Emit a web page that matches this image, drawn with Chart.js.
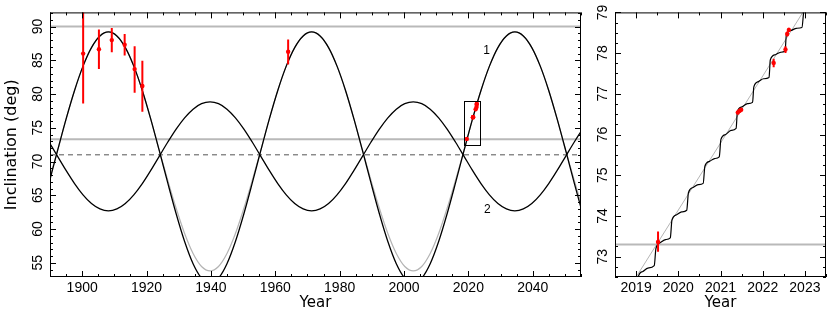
<!DOCTYPE html>
<html>
<head>
<meta charset="utf-8">
<script src="https://cdn.jsdelivr.net/npm/chart.js@4.4.1/dist/chart.umd.min.js"></script>
<style>
  html, body { margin: 0; padding: 0; background: #fff; }
  #wrap { position: relative; width: 830px; height: 316px; }
  canvas { position: absolute; top: 0; }
  #left  { left: 0; }
  #right { left: 590px; }
</style>
</head>
<body>
<div id="wrap">
  <canvas id="left" width="590" height="316"></canvas>
  <canvas id="right" width="240" height="316"></canvas>
</div>
<script>
// ── Model curves, tabulated 1/24 of the ~63 yr cycle apart ──────────────
const modelYears = [
  1889.73, 1892.36, 1894.99, 1897.63, 1900.26, 1902.89, 1905.52,
  1908.15, 1910.78, 1913.41, 1916.04, 1918.68, 1921.31, 1923.94, 1926.57,
  1929.20, 1931.83, 1934.46, 1937.09, 1939.73, 1942.36, 1944.99, 1947.62,
  1950.25, 1952.88, 1955.51, 1958.14, 1960.78, 1963.41, 1966.04, 1968.67,
  1971.30, 1973.93, 1976.56, 1979.19, 1981.83, 1984.46, 1987.09, 1989.72,
  1992.35, 1994.98, 1997.61, 2000.24, 2002.88, 2005.51, 2008.14, 2010.77,
  2013.40, 2016.03, 2018.66, 2021.28, 2023.92, 2026.55, 2029.18, 2031.82,
  2034.45, 2037.08, 2039.71, 2042.34, 2044.97, 2047.60, 2050.24, 2052.87,
  2055.50
];

// solution 1, full model (black)
const curve1 = [
  66.88, 71.65, 76.29, 80.54, 84.14, 86.89, 88.61,
  89.20, 88.61, 86.89, 84.14, 80.54, 76.29, 71.65, 66.88,
  62.27, 58.16, 54.87, 52.74, 52.00, 52.74, 54.87, 58.16,
  62.27, 66.88, 71.65, 76.29, 80.54, 84.14, 86.89, 88.61,
  89.20, 88.61, 86.89, 84.14, 80.54, 76.29, 71.65, 66.88,
  62.27, 58.16, 54.87, 52.74, 52.00, 52.74, 54.87, 58.16,
  62.27, 66.88, 71.65, 76.29, 80.54, 84.14, 86.89, 88.61,
  89.20, 88.61, 86.89, 84.14, 80.54, 76.29, 71.65, 66.88,
  62.27
];

// solution 1, secular only (grey)
const curve1Secular = [
  67.27, 71.65, 76.29, 80.54, 84.14, 86.89, 88.61,
  89.20, 88.61, 86.89, 84.14, 80.54, 76.29, 71.65, 67.27,
  63.08, 59.34, 56.38, 54.46, 53.80, 54.46, 56.38, 59.34,
  63.08, 67.27, 71.65, 76.29, 80.54, 84.14, 86.89, 88.61,
  89.20, 88.61, 86.89, 84.14, 80.54, 76.29, 71.65, 67.27,
  63.08, 59.34, 56.38, 54.46, 53.80, 54.46, 56.38, 59.34,
  63.08, 67.27, 71.65, 76.29, 80.54, 84.14, 86.89, 88.61,
  89.20, 88.61, 86.89, 84.14, 80.54, 76.29, 71.65, 67.27,
  63.08
];

// solution 2 (black)
const curve2 = [
  72.86, 70.78, 68.69, 66.74, 65.07, 63.78, 62.98,
  62.70, 62.98, 63.78, 65.07, 66.74, 68.69, 70.78, 72.86,
  74.81, 76.48, 77.77, 78.58, 78.85, 78.58, 77.77, 76.48,
  74.81, 72.86, 70.78, 68.69, 66.74, 65.07, 63.78, 62.98,
  62.70, 62.98, 63.78, 65.07, 66.74, 68.69, 70.78, 72.86,
  74.81, 76.48, 77.77, 78.58, 78.85, 78.58, 77.77, 76.48,
  74.81, 72.86, 70.78, 68.69, 66.74, 65.07, 63.78, 62.98,
  62.70, 62.98, 63.78, 65.07, 66.74, 68.69, 70.78, 72.86,
  74.81
];

// ── Zoomed panel: short-period model (black) and secular trend (grey) ───
const stepYears = [
  2019.03, 2019.05, 2019.15, 2019.28, 2019.43,
  2019.47, 2019.58, 2019.70, 2019.81,
  2019.85, 2019.96, 2020.08, 2020.20,
  2020.24, 2020.35, 2020.47, 2020.59,
  2020.63, 2020.74, 2020.86, 2020.97,
  2021.01, 2021.12, 2021.25, 2021.37,
  2021.40, 2021.51, 2021.64, 2021.76,
  2021.79, 2021.90, 2022.02, 2022.15,
  2022.18, 2022.30, 2022.42, 2022.53,
  2022.56, 2022.68, 2022.80, 2022.93,
  2022.97, 2023.00
];
const stepInc = [
  72.15, 72.50, 72.63, 72.72, 72.78,
  73.20, 73.35, 73.42, 73.46,
  73.90, 74.03, 74.10, 74.14,
  74.57, 74.70, 74.77, 74.80,
  75.22, 75.34, 75.41, 75.45,
  75.88, 76.00, 76.10, 76.15,
  76.56, 76.68, 76.76, 76.79,
  77.17, 77.30, 77.37, 77.40,
  77.83, 77.96, 78.02, 78.05,
  78.44, 78.56, 78.61, 78.63,
  79.00, 79.20
];
const trendYears = [2018.80, 2023.20];
const trendInc   = [72.17, 79.41];

// ── Measured inclinations with error bars ──────────────────────────────
const obsYear = [1900.3, 1905.2, 1909.2, 1913.2, 1916.3, 1918.7, 1964.0,
                 2019.52, 2021.41, 2021.45, 2021.49, 2022.26, 2022.54, 2022.58, 2022.62];
const obsInc  = [86.00, 86.65, 88.00, 87.30, 83.70, 81.20, 86.26,
                 73.36, 76.54, 76.58, 76.61, 77.76, 78.09, 78.47, 78.57];
const obsLo   = [78.60, 83.70, 86.20, 85.70, 80.20, 77.40, 84.40,
                 73.12, 76.50, 76.54, 76.57, 77.65, 78.00, 78.41, 78.52];
const obsHi   = [93.50, 89.55, 89.80, 88.90, 87.10, 84.95, 88.10,
                 73.62, 76.58, 76.62, 76.65, 77.86, 78.17, 78.53, 78.62];

// reference levels
const greyLevels = [90.0, 73.3];
const dashLevel  = 71.0;

// tick labels
const xTicksLeft  = [1900, 1920, 1940, 1960, 1980, 2000, 2020, 2040];
const yTicksLeft  = [55, 60, 65, 70, 75, 80, 85, 90];
const xTicksRight = [2019, 2020, 2021, 2022, 2023];
const yTicksRight = [73, 74, 75, 76, 77, 78, 79];

const RED = '#ff0000';
const TICK_FONT  = { family: 'Liberation Sans', size: 14 };
const TITLE_FONT = { family: 'DejaVu Sans', size: 15 };

const pts = (xs, ys) => xs.map((x, i) => ({ x, y: ys[i] }));

function ticksFor(scale, minor, major) {
  const out = [];
  for (let i = Math.ceil(scale.min / minor - 1e-9); i * minor <= scale.max + 1e-9; i++) {
    const v = i * minor;
    out.push([v, Math.abs(v / major - Math.round(v / major)) < 1e-6]);
  }
  return out;
}

// Error bars, zoom box, curve labels, frame and inward ticks
const decor = {
  id: 'decor',
  afterDatasetsDraw(chart, args, o) {
    const { ctx, chartArea: a, scales: { x, y } } = chart;
    ctx.save();
    ctx.beginPath();
    ctx.rect(a.left, a.top, a.width, a.height);
    ctx.clip();

    ctx.strokeStyle = RED;
    ctx.lineWidth = o.barWidth;
    obsYear.forEach((t, i) => {
      const px = x.getPixelForValue(t);
      ctx.beginPath();
      ctx.moveTo(px, y.getPixelForValue(obsLo[i]));
      ctx.lineTo(px, y.getPixelForValue(obsHi[i]));
      ctx.stroke();
    });

    if (o.box) {
      const [x0, x1, y0, y1] = o.box;
      const l = Math.round(x.getPixelForValue(x0)) + 0.5;
      const r = Math.round(x.getPixelForValue(x1)) + 0.5;
      const t = Math.round(y.getPixelForValue(y1)) + 0.5;
      const b = Math.round(y.getPixelForValue(y0)) + 0.5;
      ctx.strokeStyle = '#000';
      ctx.lineWidth = 1;
      ctx.strokeRect(l, t, r - l, b - t);
    }

    ctx.fillStyle = '#000';
    ctx.font = '12px "Liberation Sans"';
    ctx.textAlign = 'center';
    ctx.textBaseline = 'middle';
    (o.labels || []).forEach(l => {
      ctx.fillText(l.text, x.getPixelForValue(l.x), y.getPixelForValue(l.y));
    });
    ctx.restore();

    ctx.save();
    ctx.strokeStyle = '#000';
    ctx.lineWidth = 1;
    ctx.strokeRect(a.left + 0.5, a.top + 0.5, a.width - 1, a.height - 1);
    ctx.beginPath();
    ticksFor(x, o.xMinor, o.xMajor).forEach(([v, major]) => {
      const px = Math.round(x.getPixelForValue(v)) + 0.5;
      const len = major ? o.majorLen : o.minorLen;
      ctx.moveTo(px, a.bottom); ctx.lineTo(px, a.bottom - len);
      ctx.moveTo(px, a.top);    ctx.lineTo(px, a.top + len);
    });
    ticksFor(y, o.yMinor, o.yMajor).forEach(([v, major]) => {
      const py = Math.round(y.getPixelForValue(v)) + 0.5;
      const len = major ? o.majorLen : o.minorLen;
      ctx.moveTo(a.left, py);  ctx.lineTo(a.left + len, py);
      ctx.moveTo(a.right, py); ctx.lineTo(a.right - len, py);
    });
    ctx.stroke();
    ctx.restore();
  }
};

function lineSet(xs, ys, color, width, extra) {
  return Object.assign({
    data: pts(xs, ys),
    borderColor: color,
    borderWidth: width,
    pointRadius: 0,
    fill: false,
    cubicInterpolationMode: 'monotone',
    clip: 0,
  }, extra || {});
}

function obsSet() {
  return {
    data: pts(obsYear, obsInc),
    showLine: false,
    pointRadius: 2.2,
    pointBackgroundColor: RED,
    pointBorderWidth: 0,
    clip: 0,
  };
}

function levelSets(xMin, xMax) {
  const span = [xMin, xMax];
  const sets = greyLevels.map(v => lineSet(span, [v, v], '#b9b9b9', 2));
  sets.push(lineSet(span, [dashLevel, dashLevel], '#555555', 1, { borderDash: [5, 4] }));
  return sets;
}

function axes(xr, yr, xTicks, yTicks, yTitle, yWidth) {
  return {
    x: {
      type: 'linear', min: xr[0], max: xr[1],
      grid: { display: false, drawTicks: false },
      border: { display: false },
      afterBuildTicks: s => { s.ticks = xTicks.map(v => ({ value: v })); },
      afterFit: s => { s.height = 39; },
      ticks: { autoSkip: false, maxRotation: 0, padding: 3, color: '#000', font: TICK_FONT,
               callback: v => String(v) },
      title: { display: true, text: 'Year', color: '#000', font: TITLE_FONT,
               padding: { top: 0, bottom: 4 } },
    },
    y: {
      type: 'linear', min: yr[0], max: yr[1],
      grid: { display: false, drawTicks: false },
      border: { display: false },
      afterBuildTicks: s => { s.ticks = yTicks.map(v => ({ value: v })); },
      afterFit: s => { s.width = yWidth; },
      ticks: { autoSkip: false, minRotation: 90, maxRotation: 90, crossAlign: 'center',
               padding: 4, color: '#000', font: TICK_FONT, callback: v => String(v) },
      title: { display: !!yTitle, text: yTitle || '', color: '#000',
               font: Object.assign({}, TITLE_FONT, { size: 16 }), padding: { top: 2, bottom: 0 } },
    },
  };
}

const common = {
  responsive: false,
  animation: false,
  devicePixelRatio: 1,
  events: [],
};

// ── Full time range ───────────────────────────────────────────────────
new Chart(document.getElementById('left'), {
  type: 'line',
  data: {
    datasets: [
      obsSet(),
      lineSet(modelYears, curve1, '#000', 1.3),
      lineSet(modelYears, curve2, '#000', 1.3),
      lineSet(modelYears, curve1Secular, '#b4b4b4', 1.2),
      ...levelSets(1890, 2055),
    ],
  },
  options: Object.assign({}, common, {
    layout: { padding: { top: 7, right: 9, left: 0, bottom: 0 } },
    scales: axes([1890, 2055], [52.9, 92.1], xTicksLeft, yTicksLeft, 'Inclination (deg)', 50),
    plugins: {
      legend: { display: false },
      tooltip: { enabled: false },
      decor: {
        barWidth: 2, majorLen: 6, minorLen: 3,
        xMinor: 5, xMajor: 20, yMinor: 1, yMajor: 5,
        box: [2018.5, 2023.5, 72.5, 79.0],
        labels: [{ text: '1', x: 2025.7, y: 86.4 }, { text: '2', x: 2025.9, y: 62.9 }],
      },
    },
  }),
  plugins: [decor],
});

// ── Zoom on 2018.5 – 2023.5 ───────────────────────────────────────────
new Chart(document.getElementById('right'), {
  type: 'line',
  data: {
    datasets: [
      obsSet(),
      lineSet(stepYears, stepInc, '#000', 1.2),
      lineSet(trendYears, trendInc, '#b4b4b4', 1),
      ...levelSets(2018.5, 2023.5),
    ],
  },
  options: Object.assign({}, common, {
    layout: { padding: { top: 7, right: 2, left: 0, bottom: 0 } },
    scales: axes([2018.5, 2023.5], [72.5, 79.0], xTicksRight, yTicksRight, null, 25),
    plugins: {
      legend: { display: false },
      tooltip: { enabled: false },
      decor: {
        barWidth: 2, majorLen: 6, minorLen: 3,
        xMinor: 0.5, xMajor: 1, yMinor: 0.25, yMajor: 1,
      },
    },
  }),
  plugins: [decor],
});
</script>
</body>
</html>
